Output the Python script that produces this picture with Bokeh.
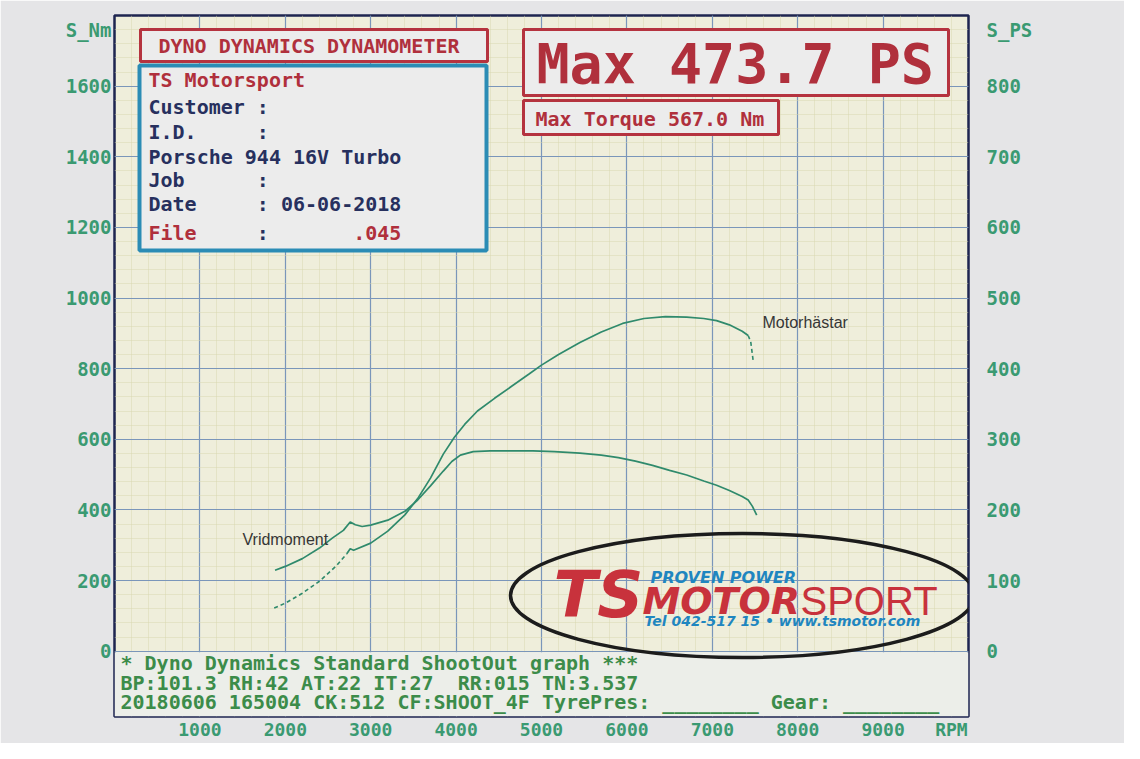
import numpy as np
from bokeh.plotting import figure
from bokeh.models import Range1d, LinearAxis, FixedTicker
from bokeh.core.properties import value
from bokeh.embed import file_html
from bokeh.resources import INLINE

# ---------------- data ----------------
torque_rpm = [1880, 2000, 2200, 2400, 2550, 2680, 2760, 2820, 2900, 3000, 3200, 3400, 3550,
              3700, 3850, 3950, 4050, 4200, 4400, 4650, 4900, 5150, 5450, 5700, 5900, 6100,
              6300, 6500, 6700, 6900, 7050, 7200, 7350, 7420, 7470, 7520]
torque_nm = [229, 240, 262, 292, 320, 342, 366, 358, 353, 357, 371, 396, 428,
             468, 510, 537, 555, 565, 567, 567, 567, 565, 561, 555, 548, 538,
             526, 512, 499, 482, 470, 455, 438, 428, 410, 385]

power_rpm = [1870, 2000, 2200, 2400, 2600, 2720, 2760, 2800, 3000, 3200, 3400, 3550, 3700,
             3850, 3980, 4100, 4250, 4450, 4650, 4850, 5000, 5200, 5450, 5700, 5950, 6200,
             6450, 6700, 6900, 7050, 7200, 7350, 7420, 7450, 7480]
power_ps = [61, 68, 82, 99, 121, 138, 145, 143, 153, 170, 193, 216, 245,
            279, 303, 321, 340, 358, 375, 392, 405, 420, 437, 452, 464, 471,
            473.7, 473, 471, 468, 462, 453, 447, 438, 410]

rpm_ticks = [1000, 2000, 3000, 4000, 5000, 6000, 7000, 8000, 9000]
nm_ticks = [0, 200, 400, 600, 800, 1000, 1200, 1400, 1600]
ps_ticks = [0, 100, 200, 300, 400, 500, 600, 700, 800]
x_unit, left_unit, right_unit = "RPM", "S_Nm", "S_PS"

info_shop = "TS Motorsport"
info_fields = ["Customer", "I.D.", "Porsche 944 16V Turbo", "Job", "Date", "File"]
info_date = "06-06-2018"
info_file = ".045"
footer_lines = ["* Dyno Dynamics Standard ShootOut graph ***",
                "BP:101.3 RH:42 AT:22 IT:27\u00a0 RR:015 TN:3.537",
                "20180606 165004 CK:512 CF:SHOOT_4F TyrePres: ________ Gear: ________"]

# ---------------- layout ----------------
FW, FH = 1124, 743
BL, BR, BT, BB = 114, 156, 15, 27
PLW = FW - BL - BR
PLH = FH - BT - BB
X0, X1 = 0, 10000
Y0, Y1 = -185, 1800


def dx(px):
    return X0 + (px - BL) / PLW * (X1 - X0)


def dy(py):
    return Y1 - (py - BT) / PLH * (Y1 - Y0)


def dw(pw):
    return pw / PLW * (X1 - X0)


def dh(ph):
    return ph / PLH * (Y1 - Y0)


RED = "#b0303c"
NAVY = "#27305e"
GREEN_TXT = "#3c8c4a"
GREEN_AX = "#3a9a72"
CURVE = "#2f8a6c"
MONO = "DejaVu Sans Mono"

p = figure(width=FW, height=FH, output_backend="svg", toolbar_location=None,
           x_range=Range1d(X0, X1), y_range=Range1d(Y0, Y1),
           min_border_left=BL, min_border_right=BR, min_border_top=BT, min_border_bottom=BB)
p.extra_y_ranges = {"ps": Range1d(Y0 / 2, Y1 / 2)}

p.background_fill_color = "#efeedb"
p.border_fill_color = "#e5e5e7"
p.outline_line_color = "#1e2550"
p.outline_line_width = 2.5

# axes (unit captions placed as extra labelled ticks; grid uses its own tickers)
x_unit_pos = 9800
left_unit_pos = 1760
right_unit_pos = 880
p.xaxis.ticker = FixedTicker(ticks=rpm_ticks + [x_unit_pos])
p.xaxis.major_label_overrides = {x_unit_pos: x_unit}
p.yaxis.ticker = FixedTicker(ticks=nm_ticks + [left_unit_pos])
p.yaxis.major_label_overrides = {left_unit_pos: left_unit}
for ax in (p.xaxis[0], p.yaxis[0]):
    ax.axis_line_color = None
    ax.major_tick_line_color = None
    ax.minor_tick_line_color = None
    ax.major_tick_out = 0
    ax.major_label_text_color = GREEN_AX
    ax.major_label_text_font = MONO
    ax.major_label_text_font_style = "bold"
p.xaxis.major_label_text_font_size = "18px"
p.xaxis.major_label_standoff = 2
p.yaxis.major_label_text_font_size = "19px"
p.yaxis.major_label_standoff = 3

ax_r = LinearAxis(y_range_name="ps", ticker=FixedTicker(ticks=ps_ticks + [right_unit_pos]))
ax_r.major_label_overrides = {right_unit_pos: right_unit}
ax_r.axis_line_color = None
ax_r.major_tick_line_color = None
ax_r.minor_tick_line_color = None
ax_r.major_tick_out = 0
ax_r.major_label_text_color = GREEN_AX
ax_r.major_label_text_font = MONO
ax_r.major_label_text_font_style = "bold"
ax_r.major_label_text_font_size = "19px"
ax_r.major_label_standoff = 18
p.add_layout(ax_r, "right")

# grid
p.xgrid[0].ticker = FixedTicker(ticks=rpm_ticks, minor_ticks=list(range(0, 10001, 200)))
p.ygrid[0].ticker = FixedTicker(ticks=nm_ticks, minor_ticks=list(range(0, 1801, 40)))
for g in (p.xgrid[0], p.ygrid[0]):
    g.grid_line_color = "#7a96ba"
    g.grid_line_width = 1.2
    g.minor_grid_line_color = "#d8d5ad"
    g.minor_grid_line_alpha = 0.45

# bottom info panel (covers grid below 0)
p.quad(left=[X0], right=[X1], top=[-3], bottom=[Y0], fill_color="#eceee9", line_color=None)

# curves
t_rpm = np.array(torque_rpm)
t_nm = np.array(torque_nm)
p.line(t_rpm, t_nm, line_color=CURVE, line_width=1.7)

pr = np.array(power_rpm)
pp = np.array(power_ps)
m_start = pr <= 2720
m_mid = (pr >= 2720) & (pr <= 7420)
m_end = pr >= 7420
p.line(pr[m_start], pp[m_start], y_range_name="ps", line_color=CURVE, line_width=1.6, line_dash="4 3")
p.line(pr[m_mid], pp[m_mid], y_range_name="ps", line_color=CURVE, line_width=1.7)
p.line(pr[m_end], pp[m_end], y_range_name="ps", line_color=CURVE, line_width=1.6, line_dash="4 3")


def txt(px, py, s, color, size, font=MONO, style="bold", align="left"):
    p.text(x=[dx(px)], y=[dy(py)], text=[s], text_color=color, text_font=value(font),
           text_font_size=f"{size}px", text_font_style=style, text_align=align,
           text_baseline="middle")


def box(l, r, t, b, line_color, lw, fill="#ececec"):
    p.quad(left=[dx(l)], right=[dx(r)], top=[dy(t)], bottom=[dy(b)],
           fill_color=fill, line_color=line_color, line_width=lw)


# curve labels
txt(242, 539, "Vridmoment", "#363636", 16, font="Liberation Sans", style="normal")
txt(762, 322, "Motorhästar", "#363636", 16, font="Liberation Sans", style="normal")

# header boxes
box(140, 487, 29, 61, "#b5333f", 3)
txt(158, 45, "DYNO DYNAMICS DYNAMOMETER", RED, 20)

box(139, 486, 65, 250, "#2b8cb5", 4)
CW = 12.04
LX = 148
rows_y = [106, 131, 156, 179, 203, 232]
txt(LX, 79, info_shop, RED, 20)
for name, yy in zip(info_fields, rows_y):
    col = RED if name == "File" else NAVY
    txt(LX, yy, name, col, 20)
    if name != "Porsche 944 16V Turbo":
        txt(LX + 9 * CW, yy, ":", NAVY, 20)
txt(LX + 11 * CW, 203, info_date, NAVY, 20)
txt(LX + 17 * CW, 232, info_file, RED, 20)

box(523, 948, 29, 95, "#b5333f", 3)
txt(536, 63, f"Max {max(power_ps):.1f} PS", RED, 55)
box(523, 778, 100, 134, "#b5333f", 3)
txt(535, 118, f"Max Torque {max(torque_nm):.1f} Nm", RED, 20)

# logo
p.ellipse(x=[dx(742)], y=[dy(595)], width=dw(464), height=dh(124),
          fill_color=None, line_color="#1c1c1c", line_width=3.5)
txt(553, 594, "TS", "#c8323c", 64, font="DejaVu Sans", style="bold italic")
txt(650, 577, "PROVEN POWER", "#1f86c0", 16, font="DejaVu Sans", style="bold italic")
txt(642, 600, "MOTOR", "#c8323c", 38, font="DejaVu Sans", style="bold italic")
txt(800, 600, "SPORT", "#c8323c", 40, font="Liberation Sans", style="normal")
txt(644, 620, "Tel 042-517 15  \u2022  www.tsmotor.com", "#1f86c0", 14,
    font="DejaVu Sans", style="bold italic")

# footer text
for s, yy in zip(footer_lines, [662, 682, 701]):
    txt(120, yy, s, GREEN_TXT, 20, style="bold")

open("out.html", "w").write(file_html(p, INLINE))
